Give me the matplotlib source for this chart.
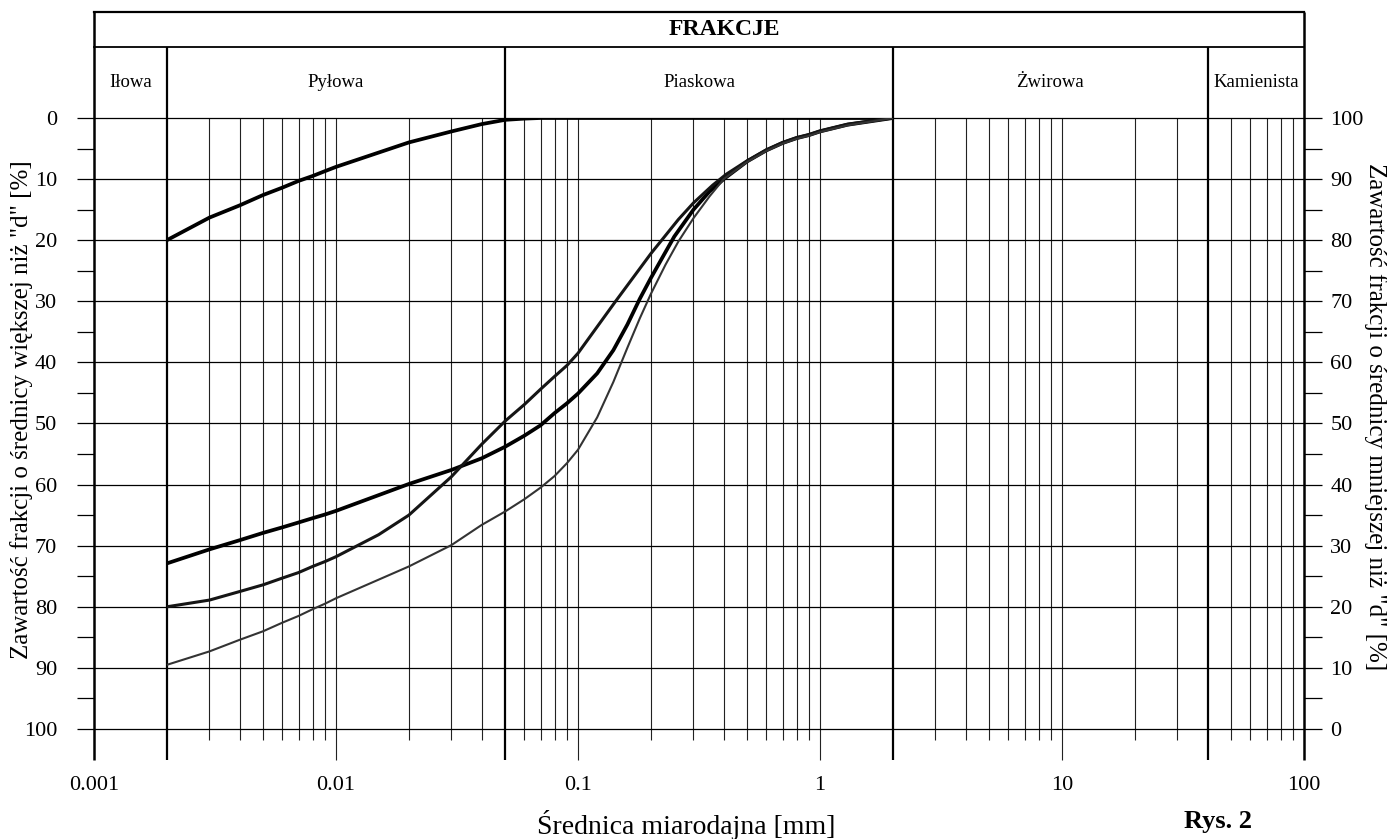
import matplotlib
matplotlib.use("Agg")
import matplotlib.pyplot as plt

plt.rcParams['font.family'] = ['Liberation Serif', 'DejaVu Serif']

# fraction boundaries [mm] and names
bounds = [0.001, 0.002, 0.05, 2, 40, 100]
fractions = ['Iłowa', 'Pyłowa', 'Piaskowa', 'Żwirowa', 'Kamienista']

# grain size curves, values = "zawartość frakcji o średnicy większej niż d" [%]
d_a = [0.002, 0.003, 0.004, 0.005, 0.006, 0.007, 0.008, 0.009, 0.01, 0.02, 0.03, 0.04,
       0.05, 0.06, 0.07, 0.1, 0.5, 1, 2]
y_a = [20, 16.3, 14.3, 12.6, 11.4, 10.3, 9.5, 8.7, 8.0, 4.0, 2.2, 1.0,
       0.3, 0.1, 0, 0, 0, 0, 0]

d_b = [0.002, 0.003, 0.004, 0.005, 0.006, 0.007, 0.008, 0.009, 0.01, 0.02, 0.03, 0.04,
       0.05, 0.06, 0.07, 0.08, 0.09, 0.1, 0.12, 0.14, 0.16, 0.18, 0.2, 0.225, 0.25,
       0.3, 0.35, 0.4, 0.5, 0.6, 0.7, 0.8, 0.9, 1, 1.3, 2]
y_b = [72.9, 70.6, 69.1, 67.9, 67.0, 66.2, 65.5, 64.9, 64.3, 59.9, 57.6, 55.7,
       53.8, 52.0, 50.3, 48.3, 46.7, 45.1, 41.8, 38.0, 33.8, 29.6, 26.2, 22.6, 19.4,
       15.0, 12.0, 10.0, 7.1, 5.3, 4.1, 3.3, 2.8, 2.2, 1.1, 0]

d_c = [0.002, 0.003, 0.004, 0.005, 0.006, 0.007, 0.008, 0.009, 0.01, 0.015, 0.02, 0.03,
       0.04, 0.05, 0.06, 0.07, 0.08, 0.09, 0.1, 0.143, 0.2, 0.26, 0.3, 0.36, 0.41,
       0.5, 0.6, 0.7, 0.8, 0.9, 1, 1.3, 2]
y_c = [80, 78.9, 77.5, 76.4, 75.3, 74.4, 73.4, 72.6, 71.8, 68.2, 65.0, 58.7,
       53.4, 49.6, 46.9, 44.4, 42.3, 40.5, 38.5, 30, 22.2, 16.6, 13.9, 11.0, 9.2,
       7.0, 5.2, 4.0, 3.2, 2.7, 2.1, 1.0, 0]

d_d = [0.002, 0.003, 0.004, 0.005, 0.006, 0.007, 0.008, 0.009, 0.01, 0.02, 0.03, 0.04,
       0.05, 0.06, 0.07, 0.08, 0.09, 0.1, 0.12, 0.14, 0.16, 0.18, 0.2, 0.23, 0.26,
       0.3, 0.35, 0.4, 0.5, 0.6, 0.7, 0.8, 0.9, 1, 1.3, 2]
y_d = [89.5, 87.3, 85.4, 84.0, 82.6, 81.5, 80.4, 79.5, 78.6, 73.4, 69.9, 66.6,
       64.4, 62.4, 60.5, 58.6, 56.5, 54.3, 49.0, 43.2, 37.6, 32.8, 28.8, 24.0, 20.2,
       16.4, 12.8, 10.0, 7.2, 5.4, 4.2, 3.4, 2.9, 2.3, 1.2, 0]

decades = [0.001, 0.01, 0.1, 1, 10, 100]
dec_labels = ['0.001', '0.01', '0.1', '1', '10', '100']

fig = plt.figure(figsize=(13.87, 8.39), dpi=100)
ax = fig.add_axes([0.06777, 0.13111, 0.87239, 0.72825])
ax.set_xscale('log')
ax.set_xlim(0.001, 100)
ax.set_ylim(100, 0)
for s in ax.spines.values():
    s.set_visible(False)

xt = ax.get_xaxis_transform()

# minor vertical grid
minor = []
for e in [0.001, 0.01, 0.1, 1, 10]:
    for k in range(2, 10):
        v = round(k * e, 6)
        if v not in bounds and 0.002 < v < 100:
            minor.append(v)
ax.vlines(minor, -0.018, 1.0, transform=xt, colors='#222222', lw=0.8, clip_on=False)
ax.vlines([0.01, 0.1, 1, 10], -0.0507, 1.0, transform=xt, colors='#222222', lw=0.8,
          clip_on=False)
# fraction boundaries and frame
ax.vlines(bounds[1:-1], -0.0507, 1.1162, transform=xt, colors='black', lw=1.6,
          clip_on=False)
ax.vlines([bounds[0], bounds[-1]], -0.0507, 1.1735, transform=xt, colors='black', lw=1.8,
          clip_on=False)
ax.plot([0.001, 100], [1.1735, 1.1735], transform=xt, color='black', lw=1.6, clip_on=False)
ax.plot([0.001, 100], [1.1162, 1.1162], transform=xt, color='black', lw=1.3, clip_on=False)

# horizontal grid
ax.hlines(range(0, 101, 10), 0.001, 100, colors='black', lw=0.9, clip_on=False)

# header texts
ax.text(0.521, 1.1445, 'FRAKCJE', transform=ax.transAxes, ha='center', va='center',
        fontsize=17, fontweight='bold')
for i, name in enumerate(fractions):
    xc = (bounds[i] * bounds[i + 1]) ** 0.5
    ax.text(xc, 1.0573, name, transform=xt, ha='center', va='center', fontsize=13.5)

# curves
kw = dict(solid_capstyle='butt', solid_joinstyle='round')
ax.plot(d_a, y_a, color='black', lw=2.7, **kw)
ax.plot(d_b, y_b, color='black', lw=2.7, **kw)
ax.plot(d_c, y_c, color='#151515', lw=2.2, **kw)
ax.plot(d_d, y_d, color='#333333', lw=1.5, **kw)

# x ticks
ax.set_xticks(decades)
ax.set_xticklabels(dec_labels)
ax.xaxis.set_minor_locator(matplotlib.ticker.NullLocator())
ax.tick_params(axis='x', which='both', length=0, pad=34, labelsize=16)

# left y ticks
ax.set_yticks(range(0, 101, 10))
ax.set_yticks(range(5, 100, 10), minor=True)
ax.tick_params(axis='y', which='both', direction='out', length=12.5, width=0.9,
               pad=14, labelsize=16)

# right y axis
ax2 = ax.twinx()
ax2.set_ylim(0, 100)
for s in ax2.spines.values():
    s.set_visible(False)
ax2.set_yticks(range(0, 101, 10))
ax2.set_yticks(range(5, 100, 10), minor=True)
ax2.tick_params(axis='y', which='both', direction='out', length=13, width=0.9,
                pad=6, labelsize=16)

ax.text(-0.0595, 0.522, 'Zawartość frakcji o średnicy większej niż "d" [%]',
        transform=ax.transAxes, rotation=90, ha='center', va='center', fontsize=18)
ax.text(1.0587, 0.512, 'Zawartość frakcji o średnicy mniejszej niż "d" [%]',
        transform=ax.transAxes, rotation=270, ha='center', va='center', fontsize=18)
ax.text(0.489, -0.157, 'Średnica miarodajna [mm]', transform=ax.transAxes,
        ha='center', va='center', fontsize=20)
ax.text(0.929, -0.152, 'Rys. 2', transform=ax.transAxes, ha='center', va='center',
        fontsize=19, fontweight='bold')

fig.savefig('out.png', dpi=100)
